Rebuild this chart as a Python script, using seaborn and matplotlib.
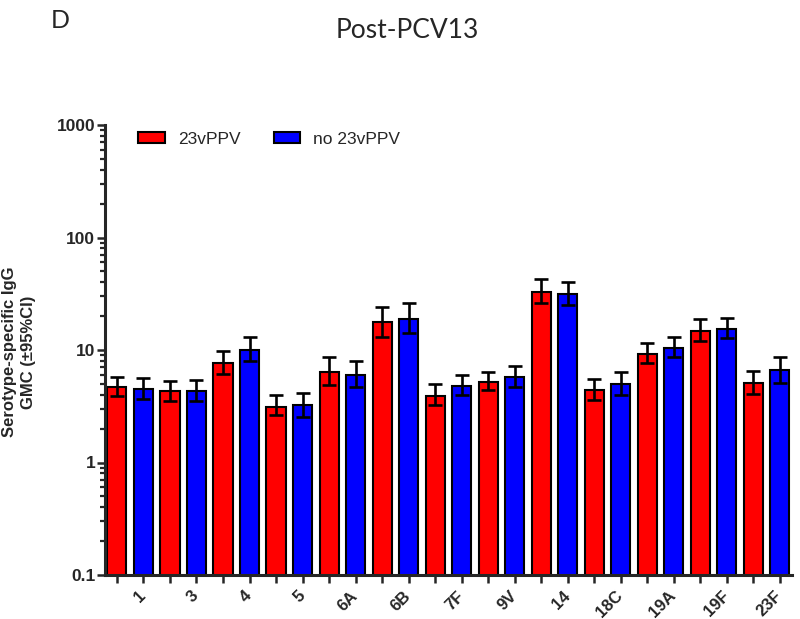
import numpy as np
import pandas as pd
import matplotlib
matplotlib.use("Agg")
import matplotlib.pyplot as plt
from matplotlib.ticker import LogLocator, NullFormatter, FixedLocator
from matplotlib.container import BarContainer
import seaborn as sns

# ---- data ----
serotypes = ["1", "3", "4", "5", "6A", "6B", "7F", "9V", "14", "18C", "19A", "19F", "23F"]
groups = ["23vPPV", "no 23vPPV"]
gmc_ppv = [4.68, 4.29, 7.66, 3.13, 6.41, 17.8, 3.92, 5.19, 33.0, 4.38, 9.21, 14.9, 5.05]
lo_ppv = [3.89, 3.54, 6.11, 2.62, 4.85, 13.1, 3.22, 4.40, 26.1, 3.61, 7.61, 12.1, 4.06]
hi_ppv = [5.79, 5.30, 9.86, 3.95, 8.71, 24.3, 4.96, 6.41, 42.9, 5.52, 11.5, 18.8, 6.54]
gmc_no = [4.49, 4.31, 10.1, 3.22, 5.99, 19.0, 4.81, 5.75, 31.3, 4.95, 10.5, 15.4, 6.64]
lo_no = [3.68, 3.54, 8.03, 2.55, 4.71, 14.3, 3.97, 4.71, 25.2, 4.00, 8.61, 12.7, 5.11]
hi_no = [5.60, 5.40, 13.1, 4.14, 7.93, 26.4, 5.99, 7.20, 40.1, 6.33, 13.1, 19.2, 8.66]
ytick_vals = [0.1, 1, 10, 100, 1000]
ytick_labels = ["0.1", "1", "10", "100", "1000"]

df = pd.DataFrame({
    "serotype": serotypes * 2,
    "group": [groups[0]] * len(serotypes) + [groups[1]] * len(serotypes),
    "gmc": gmc_ppv + gmc_no,
})

sns.set_style("ticks")
plt.rcParams["font.family"] = ["Liberation Sans", "DejaVu Sans"]

fig = plt.figure(figsize=(8.0, 6.19), dpi=100)
ax = fig.add_axes([105 / 800, 44 / 619, 687 / 800, 450 / 619])

sns.barplot(data=df, x="serotype", y="gmc", hue="group", order=serotypes,
            hue_order=groups, palette={"23vPPV": "#ff0000", "no 23vPPV": "#0000ff"},
            width=1.0, gap=0.28, edgecolor="black", linewidth=1.5,
            errorbar=None, saturation=1, ax=ax)
ax.set_yscale("log")

# error bars at bar centres
bar_conts = [c for c in ax.containers if isinstance(c, BarContainer)]
centers = []
for gi, cont in enumerate(bar_conts):
    xs = [p.get_x() + p.get_width() / 2 for p in cont.patches]
    if gi == 0:
        v, lo, hi = np.array(gmc_ppv), np.array(lo_ppv), np.array(hi_ppv)
    else:
        v, lo, hi = np.array(gmc_no), np.array(lo_no), np.array(hi_no)
    ax.errorbar(xs, v, yerr=[v - lo, hi - v], fmt="none", ecolor="black",
                elinewidth=1.9, capsize=5, capthick=1.9, zorder=5)
    centers.append(xs)

ax.set_ylim(0.1, 1000)
ax.set_xlim(-0.475, 12.48)

ax.yaxis.set_major_locator(FixedLocator(ytick_vals))
ax.set_yticklabels(ytick_labels, fontsize=12.5, fontweight="bold")
ax.yaxis.set_minor_locator(LogLocator(base=10, subs=np.arange(2, 10)))
ax.yaxis.set_minor_formatter(NullFormatter())
ax.tick_params(axis="y", which="major", length=6, width=1.8, pad=1)
ax.tick_params(axis="y", which="minor", length=3.5, width=1.6)

allx = sorted([(x, 0) for x in centers[0]] + [(x, 1) for x in centers[1]])
ax.set_xticks([x for x, _ in allx])
xl = []
bi = 0
for x, g in allx:
    if g == 1:
        xl.append(serotypes[bi]); bi += 1
    else:
        xl.append("")
ax.set_xticklabels(xl, rotation=45, ha="right", va="center",
                   rotation_mode="anchor", fontsize=12, fontweight="bold")
ax.tick_params(axis="x", which="major", length=5.5, width=1.8, pad=8)
ax.set_xlabel("")
ax.set_ylabel("")

for s in ["top", "right"]:
    ax.spines[s].set_visible(False)
for s in ["left", "bottom"]:
    ax.spines[s].set_linewidth(2.2)

leg = ax.legend(loc="upper left", bbox_to_anchor=(0.048, 0.985), ncol=2,
                frameon=False, fontsize=12.5, handlelength=1.55, handleheight=0.63,
                handletextpad=0.75, columnspacing=1.9, borderaxespad=0, borderpad=0)
for h in leg.legend_handles:
    h.set_edgecolor("black")
    h.set_linewidth(1.5)

fig.text(19 / 800, 1 - 352 / 619, "Serotype-specific IgG\nGMC (±95%CI)", rotation=90,
         ha="center", va="center", multialignment="center", fontsize=12,
         fontweight="bold", linespacing=1.25)
fig.text(407 / 800, 1 - 30 / 619, "Post-PCV13", ha="center", va="center",
         fontsize=19, family=["Lato", "DejaVu Sans"])
fig.text(60 / 800, 1 - 20 / 619, "D", ha="center", va="center",
         fontsize=18, family=["Lato", "DejaVu Sans"])

fig.savefig("out.png", dpi=100)
